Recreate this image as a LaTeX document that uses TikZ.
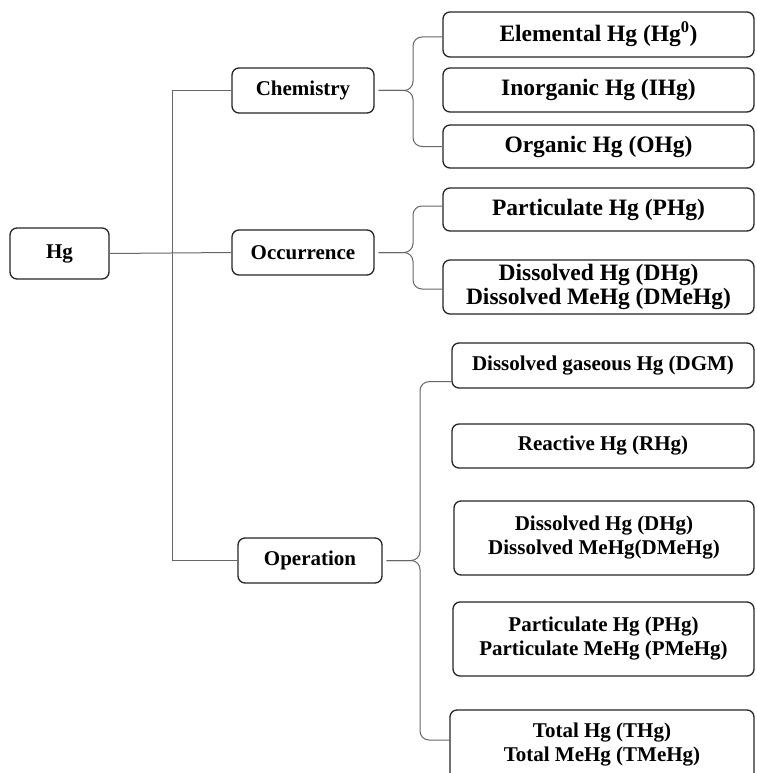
\documentclass[tikz,border=0pt]{standalone}
\usepackage{fontspec}
\setmainfont{Liberation Serif}
\usetikzlibrary{calc}
\begin{document}
\begin{tikzpicture}[x=1pt,y=-1pt,
 box/.style={draw=black!85, line width=1.3pt, rounded corners=7pt, inner sep=0pt, align=center, font=\bfseries\fontsize{21}{24}\selectfont},
 bigbox/.style={box, font=\bfseries\fontsize{23.5}{24.5}\selectfont},
 conn/.style={draw=black!60, line width=1pt},
 brace/.style={conn, rounded corners=9pt}]
\useasboundingbox (0,0) rectangle (756,773);
\fill[white] (0,0) rectangle (756,773);
% left column
\node[box, minimum width=99pt, minimum height=51pt] (hg) at (59.5,253.5) {Hg};
% middle column
\node[box, minimum width=142pt, minimum height=45pt] (chem) at (303,90.5) {Chemistry};
\node[box, minimum width=142pt, minimum height=45pt] (occ) at (303,252.5) {Occurrence};
\node[box, minimum width=144pt, minimum height=45pt] (op) at (310,560.5) {Operation};
% chemistry leaves
\node[bigbox, minimum width=311pt, minimum height=45pt] (elem) at (598.5,34.5) {Elemental Hg (Hg\textsuperscript{0})};
\node[bigbox, minimum width=311pt, minimum height=44pt] (inorg) at (598.5,90) {Inorganic Hg (IHg)};
\node[bigbox, minimum width=311pt, minimum height=43pt] (org) at (598.5,146.5) {Organic Hg (OHg)};
% occurrence leaves
\node[bigbox, minimum width=311pt, minimum height=43pt] (phg) at (598.5,209.5) {Particulate Hg (PHg)};
\node[bigbox, minimum width=311pt, minimum height=54pt] (dhg) at (598.5,287) {Dissolved Hg (DHg)\\Dissolved MeHg (DMeHg)};
% operation leaves
\node[box, minimum width=302pt, minimum height=45pt] (dgm) at (603,365.5) {Dissolved gaseous Hg (DGM)};
\node[box, minimum width=302pt, minimum height=44pt] (rhg) at (603,446) {Reactive Hg (RHg)};
\node[box, minimum width=300pt, minimum height=74pt] (odhg) at (604,538) {Dissolved Hg (DHg)\\Dissolved MeHg(DMeHg)};
\node[box, minimum width=301pt, minimum height=74pt] (ophg) at (603.5,639) {Particulate Hg (PHg)\\Particulate MeHg (PMeHg)};
\node[box, minimum width=304pt, minimum height=70pt] (tot) at (602,745) {Total Hg (THg)\\Total MeHg (TMeHg)};
% helper x positions
\coordinate (trunk) at (172,0);
\coordinate (cb) at (413,0);
\coordinate (ob) at (413,0);
\coordinate (pb) at (420,0);
% trunk connectors
\draw[conn] (hg.east) -- (occ.west);
\draw[conn] (chem.west) -- (chem.west -| trunk) -- (op.west -| trunk) -- (op.west);
% chemistry brace
\draw[brace] ([xshift=4pt]chem.east) -- (chem.east -| cb) |- ($(elem.west)+(0,2.5)$);
\draw[brace] ([xshift=4pt]chem.east) -- (chem.east -| cb) |- (org.west);
% occurrence brace
\draw[brace] ([xshift=4pt]occ.east) -- (occ.east -| ob) |- ($(phg.west)+(0,-3.5)$);
\draw[brace] ([xshift=4pt]occ.east) -- (occ.east -| ob) |- ($(dhg.west)+(0,2)$);
% operation brace
\draw[brace] ([xshift=4pt]op.east) -- (op.east -| pb) |- ($(dgm.south west)+(0,-7)$);
\draw[brace] ([xshift=4pt]op.east) -- (op.east -| pb) |- ($(tot.west)+(0,-5)$);
\end{tikzpicture}
\end{document}
